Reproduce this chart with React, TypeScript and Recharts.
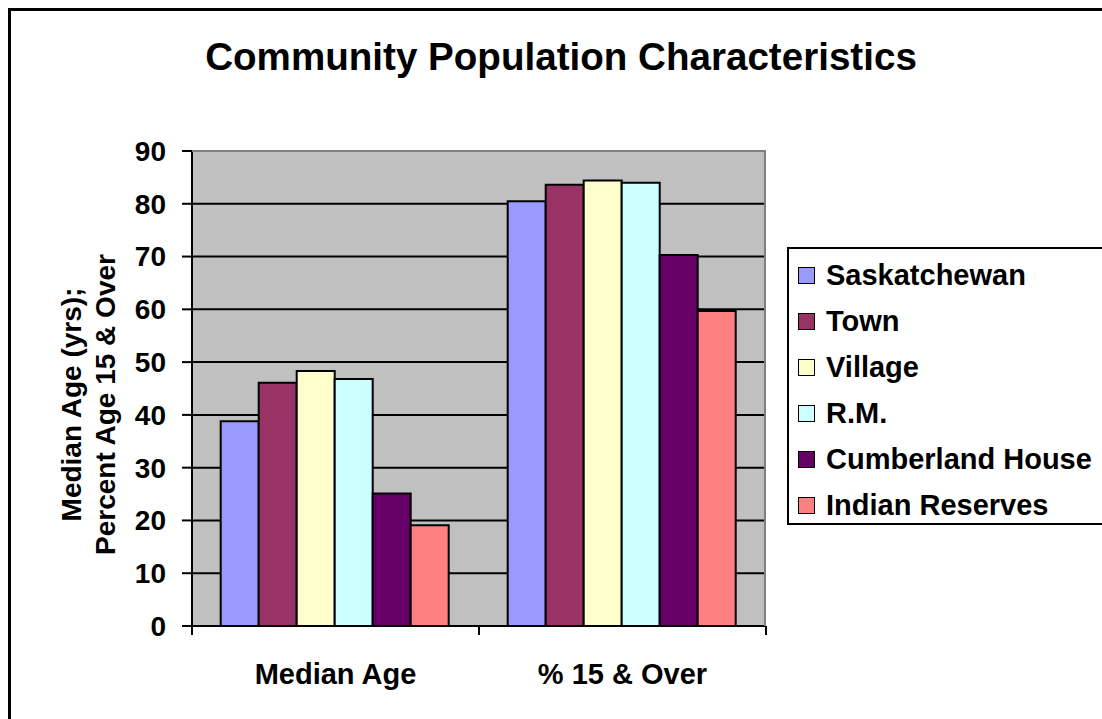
import React from 'react';
import { BarChart, Bar, XAxis, YAxis, CartesianGrid, Legend, ReferenceLine } from 'recharts';

const categories = ['Median Age', '% 15 & Over'];
const seriesNames = ['Saskatchewan', 'Town', 'Village', 'R.M.', 'Cumberland House', 'Indian Reserves'];
const saskatchewan = [38.8, 80.5];
const town = [46.1, 83.6];
const village = [48.3, 84.4];
const rm = [46.8, 84.0];
const cumberland = [25.1, 70.3];
const indianReserves = [19.1, 59.7];
const seriesColors = ['#9999FF', '#993366', '#FFFFCC', '#CCFFFF', '#660066', '#FF8080'];
const yTicks = [0, 10, 20, 30, 40, 50, 60, 70, 80, 90];
const gridValues = [10, 20, 30, 40, 50, 60, 70, 80];

const seriesValues = [saskatchewan, town, village, rm, cumberland, indianReserves];
const data = categories.map((name, i) => {
  const row: Record<string, any> = { name };
  seriesNames.forEach((s, j) => {
    row[s] = seriesValues[j][i];
  });
  return row;
});

const FONT = '"Liberation Sans", Arial, sans-serif';

const CatTick = (props: any) => {
  const { x, y, payload, index, visibleTicksCount, width } = props;
  const half = payload && typeof payload.offset === 'number' && payload.offset > 0
    ? payload.offset
    : width / visibleTicksCount / 2;
  const top = y - 9;
  return (
    <g>
      <line x1={x - half} x2={x - half} y1={top} y2={y} stroke="#000" strokeWidth={2} />
      {index === visibleTicksCount - 1 && (
        <line x1={x + half} x2={x + half} y1={top} y2={y} stroke="#000" strokeWidth={2} />
      )}
      <text x={x} y={y + 49} textAnchor="middle" fontFamily={FONT} fontWeight="bold" fontSize={29} fill="#000">
        {payload.value}
      </text>
    </g>
  );
};

const YLabel = (props: any) => {
  const vb = props.viewBox || {};
  const cy = vb.y + vb.height / 2 + 16;
  return (
    <g>
      <text transform={`translate(71, ${cy}) rotate(-90)`} textAnchor="middle" dominantBaseline="central"
        fontFamily={FONT} fontWeight="bold" fontSize={28} fill="#000">Median Age (yrs);</text>
      <text transform={`translate(105, ${cy}) rotate(-90)`} textAnchor="middle" dominantBaseline="central"
        fontFamily={FONT} fontWeight="bold" fontSize={28} fill="#000">Percent Age 15 &amp; Over</text>
    </g>
  );
};

const LegendContent = (props: any) => {
  const payload = [...(props.payload || [])].sort(
    (a: any, b: any) => seriesNames.indexOf(a.value) - seriesNames.indexOf(b.value)
  );
  return (
    <div style={{ paddingTop: 3 }}>
      {payload.map((p: any) => (
        <div key={p.value} style={{ height: 46, display: 'flex', alignItems: 'center', paddingLeft: 9 }}>
          <span style={{ display: 'inline-block', width: 15, height: 15, background: p.color, border: '1.5px solid #000', marginRight: 11 }} />
          <span style={{ fontFamily: FONT, fontWeight: 'bold', fontSize: 29, color: '#000', whiteSpace: 'nowrap' }}>{p.value}</span>
        </div>
      ))}
    </div>
  );
};

export default function App() {
  return (
    <div style={{ position: 'absolute', left: 0, top: 0, width: 1102, height: 719, overflow: 'hidden', background: '#fff' }}>
      <div style={{ position: 'absolute', left: 8, top: 8, width: 1300, height: 900, border: '3px solid #000', boxSizing: 'border-box' }} />
      <div style={{ position: 'absolute', left: 0, top: 38, width: 1122, textAlign: 'center', fontFamily: FONT, fontWeight: 'bold', fontSize: 38.6, lineHeight: '38px', color: '#000', whiteSpace: 'nowrap' }}>
        Community Population Characteristics
      </div>
      <div style={{ position: 'absolute', left: 0, top: 0 }}>
        <BarChart width={1102} height={719} data={data} margin={{ top: 151, right: 336, bottom: 33, left: 112 }}
          barCategoryGap="10%" barGap={0}>
          <CartesianGrid vertical={false} horizontalValues={gridValues} stroke="#000" strokeWidth={2} fill="#C0C0C0" fillOpacity={1} />
          <XAxis dataKey="name" tickLine={false} tickSize={9} tickMargin={0} height={60}
            axisLine={{ stroke: '#000', strokeWidth: 2 }} tick={<CatTick />} interval={0} />
          <YAxis width={80} domain={[0, 90]} ticks={yTicks} interval={0} tickSize={10} tickMargin={16}
            axisLine={{ stroke: '#000', strokeWidth: 2 }} tickLine={{ stroke: '#000', strokeWidth: 2 }}
            tick={{ fontFamily: FONT, fontWeight: 'bold', fontSize: 28, fill: '#000' }}
            label={<YLabel />} allowDataOverflow />
          <ReferenceLine y={90} stroke="#808080" strokeWidth={2} />
          <Legend layout="vertical" align="center" verticalAlign="middle" content={<LegendContent />}
            itemSorter={null as any}
            wrapperStyle={{ left: 787, top: 247, width: 330, height: 278, border: '2px solid #000', boxSizing: 'border-box', background: '#fff' }} />
          {seriesNames.map((s, i) => (
            <Bar key={s} dataKey={s} fill={seriesColors[i]} stroke="#000" strokeWidth={2} isAnimationActive={false} />
          ))}
        </BarChart>
      </div>
      <div style={{ position: 'absolute', left: 192, top: 150, width: 574, height: 476, borderTop: '2px solid #808080', borderRight: '2px solid #808080', boxSizing: 'border-box', pointerEvents: 'none' }} />
    </div>
  );
}
